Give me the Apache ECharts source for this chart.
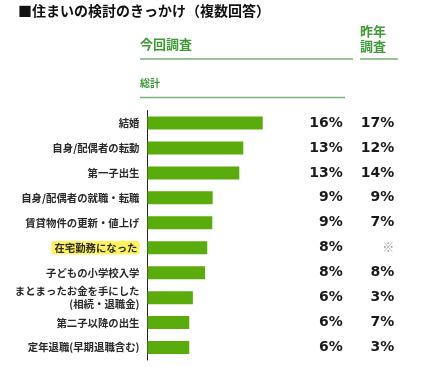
<!DOCTYPE html>
<html><head><meta charset="utf-8">
<script src="https://cdn.jsdelivr.net/npm/echarts@6/dist/echarts.min.js"></script>
<style>html,body{margin:0;padding:0;background:#fff}#c{width:430px;height:367px}</style>
</head><body><div id="c"></div>
<script>
const categories = ['結婚','自身/配偶者の転動','第一子出生','自身/配偶者の就職・転職','賃貸物件の更新・値上げ','在宅勤務になった','子どもの小学校入学','まとまったお金を手にした\n(相続・退職金)','第二子以降の出生','定年退職(早期退職含む)'];
const currentValues = [16.0, 13.3, 12.75, 9.05, 9.0, 8.3, 8.0, 6.3, 5.8, 5.8];
const currentLabels = ['16%','13%','13%','9%','9%','8%','8%','6%','6%','6%'];
const lastYearLabels = ['17%','12%','14%','9%','7%',null,'8%','3%','7%','3%'];
const highlightCategory = '在宅勤務になった';

const JP = '"Noto Sans CJK JP", sans-serif';
const NUM = '"DejaVu Sans", sans-serif';
const GREEN_T = '#3d9a35';
const chart = echarts.init(document.getElementById('c'), null, {renderer:'canvas'});
const gridLeft = 147.5, gridWidth = 180;
const gridRight = gridLeft + gridWidth;
chart.setOption({
  animation: false,
  backgroundColor: '#fff',
  grid: {left: gridLeft, top: 110.5, width: gridWidth, height: 249.5, containLabel: false},
  xAxis: {type: 'value', min: 0, max: 25, show: false},
  yAxis: [
    {type: 'category', inverse: true, data: categories, position: 'left',
     axisLine: {show: true, lineStyle: {color: '#222', width: 1}}, axisTick: {show: false},
     axisLabel: {interval: 0, margin: 8, color: '#2a2a2a', fontFamily: JP, fontWeight: 'bold', fontSize: 10.4, lineHeight: 13,
       formatter: v => v === highlightCategory ? '{h|' + v + '}' : v,
       rich: {h: {backgroundColor: '#fff35a', borderRadius: 3, padding: [2, 2, 1, 3], color: '#2a2a2a', fontFamily: JP, fontWeight: 'bold', fontSize: 10.4}}}},
    {type: 'category', inverse: true, data: currentLabels, position: 'right',
     axisLine: {show: false}, axisTick: {show: false},
     axisLabel: {interval: 0, margin: 342.7 - gridRight, align: 'right', color: '#1a1a1a', fontFamily: NUM, fontWeight: 'bold', fontSize: 14}},
    {type: 'category', inverse: true, data: lastYearLabels.map(v => v === null ? '※' : v), position: 'right',
     axisLine: {show: false}, axisTick: {show: false},
     axisLabel: {interval: 0, margin: 394.3 - gridRight, align: 'right',
       formatter: v => v === '※' ? '{m|※}' : v,
       rich: {m: {color: '#999', fontFamily: JP, fontSize: 12}},
       color: '#1a1a1a', fontFamily: NUM, fontWeight: 'bold', fontSize: 14}}
  ],
  series: [{type: 'bar', data: currentValues, barWidth: 13, itemStyle: {color: '#5aab0c'}, yAxisIndex: 0}],
  graphic: [
    {type: 'text', left: 18, top: 4, style: {text: '■住まいの検討のきっかけ（複数回答）', fill: '#111', font: 'bold 14px "Noto Sans CJK JP", sans-serif'}},
    {type: 'text', left: 140, top: 38, style: {text: '今回調査', fill: GREEN_T, font: 'bold 13px "Noto Sans CJK JP", sans-serif'}},
    {type: 'text', left: 360, top: 24, style: {text: '昨年\n調査', fill: GREEN_T, lineHeight: 15, font: 'bold 13px "Noto Sans CJK JP", sans-serif'}},
    {type: 'line', shape: {x1: 140, y1: 59, x2: 353, y2: 59}, style: {stroke: '#7bb07b', lineWidth: 1.5}},
    {type: 'line', shape: {x1: 360, y1: 59, x2: 398, y2: 59}, style: {stroke: '#7bb07b', lineWidth: 1.5}},
    {type: 'text', left: 140, top: 78, style: {text: '総計', fill: GREEN_T, font: 'bold 10px "Noto Sans CJK JP", sans-serif'}},
    {type: 'line', shape: {x1: 140, y1: 97.5, x2: 345, y2: 97.5}, style: {stroke: '#7bb07b', lineWidth: 1.5}}
  ]
});
</script></body></html>
